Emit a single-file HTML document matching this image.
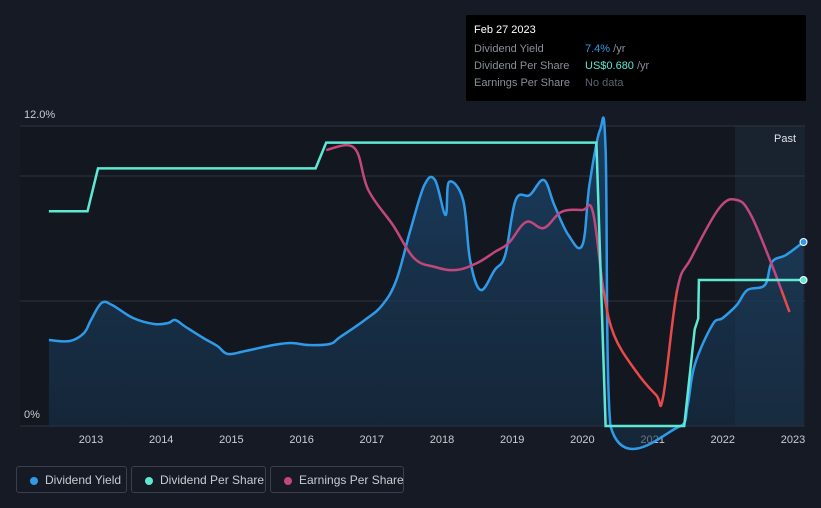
<!DOCTYPE html>
<html><head><meta charset="utf-8"><style>
body{margin:0;background:#151a24;font-family:"Liberation Sans",sans-serif;}
#wrap{position:relative;width:821px;height:508px;overflow:hidden;background:#151a24;}
.tip{position:absolute;left:466px;top:15px;width:340px;height:86px;background:#000;border-radius:2px;}
.tip div{position:absolute;left:8px;font-size:11px;color:#8a8f98;white-space:nowrap;width:320px;}
.tip span{position:absolute;left:111px;white-space:nowrap;}
.leg{position:absolute;top:466px;height:27px;border:1px solid #3a404c;border-radius:3px;color:#c8ccd2;font-size:12px;line-height:27px;padding-left:28px;box-sizing:border-box;white-space:nowrap;}
.leg i{position:absolute;left:13px;top:10px;width:8px;height:8px;border-radius:50%;}
</style></head><body>
<div id="wrap">
<svg id="chart" width="821" height="508" style="position:absolute;left:0;top:0"></svg>
<div class="tip">
<div style="top:9px;color:#fff;font-size:11px">Feb 27 2023</div>
<div style="top:28px">Dividend Yield<span style="color:#2f9be8">7.4% <b style="color:#8a8f98;font-weight:normal">/yr</b></span></div>
<div style="top:45px">Dividend Per Share<span style="color:#5ee8d4">US$0.680 <b style="color:#8a8f98;font-weight:normal">/yr</b></span></div>
<div style="top:62px">Earnings Per Share<span style="color:#5d636d">No data</span></div>
</div>
<div class="leg" style="left:16px;width:111px"><i style="background:#2f9be8"></i>Dividend Yield</div>
<div class="leg" style="left:131px;width:135px"><i style="background:#5ee8d4"></i>Dividend Per Share</div>
<div class="leg" style="left:270px;width:134px"><i style="background:#c2477d"></i>Earnings Per Share</div>
</div>
<script>
const yieldYears=[2012.4,2012.7,2012.9,2013.0,2013.15,2013.3,2013.6,2013.9,2014.1,2014.2,2014.35,2014.6,2014.8,2014.95,2015.2,2015.6,2015.85,2016.1,2016.4,2016.55,2016.9,2017.15,2017.35,2017.55,2017.75,2017.9,2018.05,2018.1,2018.3,2018.4,2018.55,2018.75,2018.9,2019.05,2019.25,2019.45,2019.6,2019.8,2020.0,2020.1,2020.25,2020.33,2020.4,2021.4,2021.5,2021.6,2021.85,2022.0,2022.2,2022.35,2022.6,2022.7,2022.9,2023.15];
const yieldValues=[3.44,3.4,3.72,4.24,4.92,4.84,4.32,4.08,4.12,4.24,3.96,3.52,3.2,2.88,3.0,3.24,3.32,3.24,3.28,3.56,4.24,4.84,5.84,7.84,9.64,9.84,8.44,9.76,9.04,6.64,5.44,6.24,6.84,9.04,9.24,9.84,8.84,7.64,7.24,9.64,11.84,11.04,0,0,0.84,2.44,4.04,4.32,4.84,5.44,5.64,6.56,6.84,7.36];
const dpsYears=[2012.4,2012.95,2013.1,2016.2,2016.35,2020.2,2020.33,2021.45,2021.6,2021.65,2021.66,2023.15];
const dpsValues=[1.0,1.0,1.2,1.2,1.32,1.32,0,0,0.45,0.5,0.68,0.68];
const epsYears=[2016.35,2016.75,2016.95,2017.3,2017.6,2017.9,2018.2,2018.5,2018.75,2018.95,2019.2,2019.45,2019.7,2020.0,2020.15,2020.3,2020.45,2020.75,2021.05,2021.15,2021.35,2021.55,2021.95,2022.2,2022.4,2022.7,2022.95];
const epsValues=[1.40,1.42,1.0,0.65,0.32,0.23,0.2,0.27,0.38,0.47,0.68,0.62,0.78,0.8,0.78,0,-0.45,-0.8,-1.05,-1.07,0,0.32,0.82,0.9,0.75,0.25,-0.22];
const xTicks=[2013,2014,2015,2016,2017,2018,2019,2020,2021,2022,2023];
const yTicks=[0,5,10,12];
const X=yr=>91+(yr-2013)*70.2;
const Y=v=>426-v*25;
const YD=v=>426-v*214.7;
const YE=v=>290-v*100;
const NS="http://www.w3.org/2000/svg";
const svg=document.getElementById('chart');
function mk(t,a,name,p){const e=document.createElementNS(NS,t);for(const k in a)e.setAttribute(k,a[k]);


(p||svg).appendChild(e);return e;}
function smooth(pts){let d='M'+pts[0][0].toFixed(1)+','+pts[0][1].toFixed(1);
for(let i=0;i<pts.length-1;i++){const p0=pts[i-1]||pts[i],p1=pts[i],p2=pts[i+1],p3=pts[i+2]||p2;const t=0.18;
let c1x=p1[0]+(p2[0]-p0[0])*t,c1y=p1[1]+(p2[1]-p0[1])*t,c2x=p2[0]-(p3[0]-p1[0])*t,c2y=p2[1]-(p3[1]-p1[1])*t;
c1x=Math.min(Math.max(c1x,p1[0]),p2[0]);c2x=Math.min(Math.max(c2x,p1[0]),p2[0]);
d+='C'+c1x.toFixed(1)+','+c1y.toFixed(1)+' '+c2x.toFixed(1)+','+c2y.toFixed(1)+' '+p2[0].toFixed(1)+','+p2[1].toFixed(1);}
return d;}
svg.innerHTML='<defs><linearGradient id="ag" x1="0" y1="0" x2="0" y2="1"><stop offset="0" stop-color="#1d4a75" stop-opacity="0.75"/><stop offset="1" stop-color="#173048" stop-opacity="0.55"/></linearGradient><clipPath id="cpos"><rect x="0" y="0" width="821" height="290"/></clipPath><clipPath id="cneg"><rect x="0" y="290" width="821" height="200"/></clipPath></defs>';
mk('rect',{x:735,y:126,width:70,height:300,fill:'#1c2a38',opacity:0.6},'past-region');
mk('rect',{x:20,y:126,width:715,height:300,fill:'#121720'},'plot-bg');
yTicks.forEach(t=>{mk('line',{x1:20,x2:805,y1:Y(t),y2:Y(t),stroke:'#2e3440','stroke-width':1},'gridline');});
mk('text',{x:24,y:118,fill:'#c8ccd2','font-size':11},'y-label-top').textContent='12.0%';
mk('text',{x:24,y:418,fill:'#c8ccd2','font-size':11},'y-label-zero').textContent='0%';
mk('text',{x:774,y:142,fill:'#e0e3e8','font-size':11},'past-label').textContent='Past';
xTicks.forEach(t=>{const e=mk('text',{x:X(t),y:443,fill:'#c8ccd2','font-size':11,'text-anchor':'middle'},'x-tick-label');e.textContent=t;});
const d=smooth(yieldYears.map((yr,i)=>[X(yr),Y(yieldValues[i])]));
mk('path',{d:d+'L'+X(yieldYears[yieldYears.length-1])+',426L'+X(yieldYears[0])+',426Z',fill:'url(#ag)'},'yield-area');
mk('path',{d:d,fill:'none',stroke:'#2f9be8','stroke-width':2.5,'stroke-linejoin':'round'},'yield-line');
const de=smooth(epsYears.map((yr,i)=>[X(yr),YE(epsValues[i])]));
mk('path',{d:de,fill:'none',stroke:'#c2477d','stroke-width':2.5,'clip-path':'url(#cpos)'},'eps-line-positive');
mk('path',{d:de,fill:'none',stroke:'#e84a4a','stroke-width':2.5,'clip-path':'url(#cneg)'},'eps-line-negative');
let dd='';dpsYears.forEach((yr,i)=>{dd+=(i?'L':'M')+X(yr).toFixed(1)+','+YD(dpsValues[i]).toFixed(1);});
mk('path',{d:dd,fill:'none',stroke:'#5ee8d4','stroke-width':2.5},'dps-line');
const ly=yieldYears.length-1,ld=dpsYears.length-1;
mk('circle',{cx:X(yieldYears[ly]),cy:Y(yieldValues[ly]),r:3.5,fill:'#2f9be8',stroke:'#fff','stroke-width':1},'yield-end-dot');
mk('circle',{cx:X(dpsYears[ld]),cy:YD(dpsValues[ld]),r:3.5,fill:'#5ee8d4',stroke:'#fff','stroke-width':1},'dps-end-dot');
</script>
</body></html>
